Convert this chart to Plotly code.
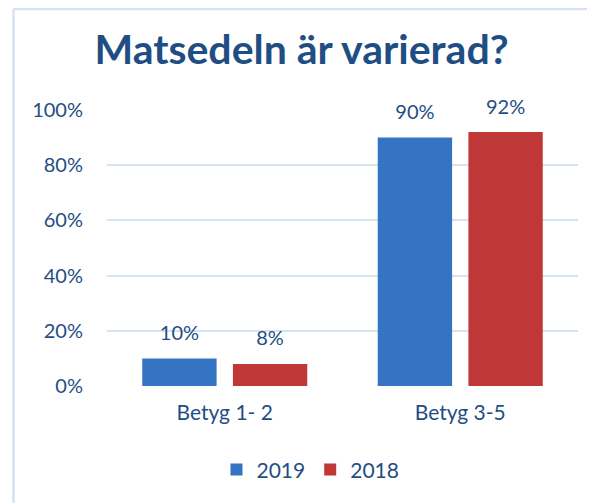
import plotly.graph_objects as go

categories = ["Betyg 1- 2", "Betyg 3-5"]
series_names = ["2019", "2018"]
values_2019 = [0.10, 0.90]
values_2018 = [0.08, 0.92]
tick_vals = [0, 0.2, 0.4, 0.6, 0.8, 1.0]
tick_text = ["0%", "20%", "40%", "60%", "80%", "100%"]

text_color = "#1F4E84"
colors = {"2019": "#3574C2", "2018": "#BF3837"}
font_family = "Lato, 'Open Sans', sans-serif"

fig = go.Figure()
for name, vals in zip(series_names, [values_2019, values_2018]):
    fig.add_trace(go.Bar(
        x=categories, y=vals, name=name,
        marker=dict(color=colors[name], line=dict(width=0)),
        offsetgroup=name,
    ))
for name, vals in zip(series_names, [values_2019, values_2018]):
    fig.add_trace(go.Scatter(
        x=categories, y=vals, mode="markers+text",
        marker=dict(size=20, color="rgba(0,0,0,0)"),
        text=[f"{round(v*100)}%" for v in vals],
        textposition="top center",
        textfont=dict(size=20, color=text_color, family=font_family),
        showlegend=False, hoverinfo="skip",
        offsetgroup=name, cliponaxis=False,
    ))

W, H = 587, 495
L, T, R, B = 99, 102, 570, 378
fig.update_layout(
    width=W, height=H,
    margin=dict(l=L, r=W - R, t=T, b=H - B),
    paper_bgcolor="white", plot_bgcolor="white",
    barmode="group", bargap=0.23, bargroupgap=0.18,
    scattermode="group", scattergap=0.23,
    title=dict(text="<b>Matsedeln är varierad?</b>", x=0.5, xanchor="center",
               y=1 - 42/H, yanchor="middle",
               font=dict(size=41, color=text_color, family=font_family)),
    font=dict(family=font_family, color=text_color, size=20),
    legend=dict(orientation="h", x=0.432, xanchor="center", y=-0.304, yanchor="middle",
                font=dict(size=21, color=text_color), itemwidth=30,
                traceorder="normal"),
    showlegend=True,
)
fig.update_yaxes(range=[0, 1.0], tickvals=tick_vals, ticktext=tick_text,
                 showgrid=True, gridcolor="#D6E3F3", gridwidth=1.5,
                 zeroline=False, showline=False, ticks="",
                 ticklabelstandoff=23,
                 tickfont=dict(size=20, color=text_color))
fig.update_xaxes(showgrid=False, showline=False, ticks="",
                 ticklabelstandoff=12,
                 tickfont=dict(size=21, color=text_color))

pw, ph = R - L, B - T
border_x = (5.5 - L) / pw
border_y = (B - 1) / ph
fig.add_shape(type="line", xref="paper", yref="paper", x0=border_x, x1=border_x,
              y0=-0.5, y1=border_y, line=dict(color="#D5E2F3", width=2.5))
fig.add_shape(type="line", xref="paper", yref="paper", x0=border_x, x1=1.1,
              y0=border_y, y1=border_y, line=dict(color="#D5E2F3", width=2.5))

fig.write_html("out.html", config={"displayModeBar": False})
